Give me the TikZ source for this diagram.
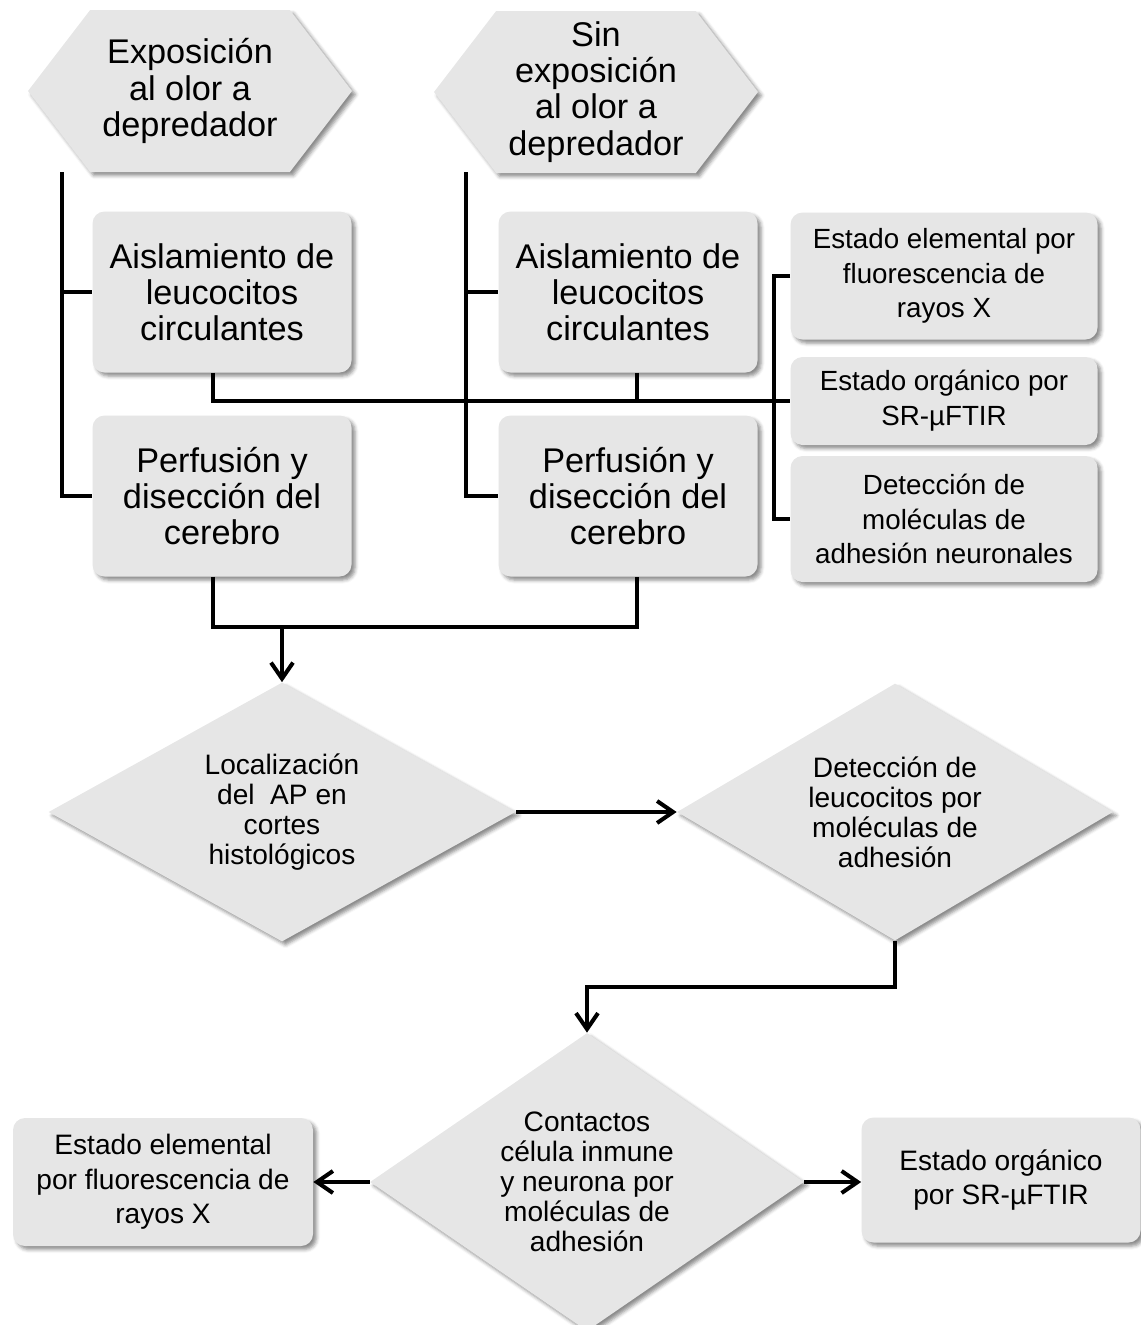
\documentclass[tikz,border=0pt]{standalone}
\usepackage{fontspec}
\setmainfont{Liberation Sans}
\usepackage{xcolor}
\usetikzlibrary{arrows.meta, shapes.geometric, shapes.symbols, shadows.blur}

\definecolor{grisclaro}{RGB}{230,230,230}
\newcommand{\px}{0.02cm}

\tikzset{
  sombra/.style={blur shadow={shadow xshift=2pt, shadow yshift=-2pt, shadow blur radius=2pt, shadow opacity=45}},
  hexa/.style={signal, signal to=west and east, signal pointer angle=105, fill=grisclaro, sombra,
    minimum width=324*\px, minimum height=162*\px, inner sep=0pt, align=center,
    font=\fontsize{19.5}{20.6}\selectfont},
  caja/.style={rectangle, rounded corners=0.24cm, fill=grisclaro, sombra, align=center, inner sep=0pt},
  cajagrande/.style={caja, minimum width=259*\px, minimum height=161*\px, font=\fontsize{19.5}{20.6}\selectfont},
  cajalado/.style={caja, minimum width=307*\px, font=\fontsize{15.8}{19.8}\selectfont},
  cajabaja/.style={caja, font=\fontsize{16}{19.6}\selectfont},
  rombo/.style={diamond, fill=grisclaro, sombra, inner sep=0pt, align=center, font=\fontsize{16}{17}\selectfont},
  link/.style={line width=2.3pt},
  flecha/.style={link, -{Straight Barb[length=0.32cm, width=0.44cm]}}
}

\begin{document}
\begin{tikzpicture}[x=0.02cm, y=-0.02cm]
    \useasboundingbox (0,0) rectangle (1141,1325);

    % hexagonos
    \node[hexa] (expo) at (190,91) {Exposición\\al olor a\\depredador};
    \node[hexa] (sinexpo) at (596,92) {Sin\\exposición\\al olor a\\depredador};

    % cajas superiores
    \node[cajagrande] (aisl_1) at (222,292) {Aislamiento de\\leucocitos\\circulantes};
    \node[cajagrande] (perf_1) at (222,496) {Perfusión y\\disección del\\cerebro};
    \node[cajagrande] (aisl_2) at (628,292) {Aislamiento de\\leucocitos\\circulantes};
    \node[cajagrande] (perf_2) at (628,496) {Perfusión y\\disección del\\cerebro};

    \node[cajalado, minimum height=127*\px] (est_1) at (944,276) {Estado elemental por\\fluorescencia de\\rayos X};
    \node[cajalado, minimum height=88*\px] (org_1) at (944,401) {Estado orgánico por\\SR-µFTIR};
    \node[cajalado, minimum height=126*\px] (det_1) at (944,519) {Detección de\\moléculas de\\adhesión neuronales};

    % rombos
    \node[rombo, aspect=1.8, minimum width=467*\px, minimum height=259*\px] (loc) at (282,812) {Localización\\del \ AP en\\cortes\\histológicos};
    \node[rombo, aspect=1.7, minimum width=436*\px, minimum height=257*\px] (detleu) at (895,812) {Detección de\\leucocitos por\\moléculas de\\adhesión};
    \node[rombo, aspect=1.46, minimum width=434*\px, minimum height=298*\px] (cont) at (587,1182) {Contactos\\célula inmune\\y neurona por\\moléculas de\\adhesión};

    % cajas inferiores
    \node[cajabaja, minimum width=300*\px, minimum height=128*\px] (est_2) at (163,1182) {Estado elemental\\por fluorescencia de\\rayos X};
    \node[cajabaja, minimum width=279*\px, minimum height=125*\px] (org_2) at (1001,1180) {Estado orgánico\\por SR-µFTIR};

    % conectores
    \coordinate (top_1) at (62,172);
    \coordinate (top_2) at (466,172);
    \draw[link] (top_1) |- (perf_1.west);
    \draw[link] (top_1 |- aisl_1.west) -- (aisl_1.west);
    \draw[link] (top_2) |- (perf_2.west);
    \draw[link] (top_2 |- aisl_2.west) -- (aisl_2.west);

    \draw[link] ([xshift=-0.18cm]aisl_1.south) |- (org_1.west);
    \draw[link] ([xshift=0.18cm]aisl_2.south) -- ++(0,28);
    \draw[link] (est_1.west) -- ++(-16,0) |- (det_1.west);

    \draw[link] ([xshift=-0.18cm]perf_1.south) -- ++(0,50) -| ([xshift=0.18cm]perf_2.south);
    \draw[flecha] (loc.north |- 0,627) -- (loc.north);
    \draw[flecha] (loc.east) -- (detleu.west);
    \draw[flecha] (detleu.south) -- ++(0,46) -| (cont.north);
    \draw[flecha] (cont.west) -- (est_2.east);
    \draw[flecha] (cont.east) -- (cont.east -| org_2.west);
\end{tikzpicture}
\end{document}
